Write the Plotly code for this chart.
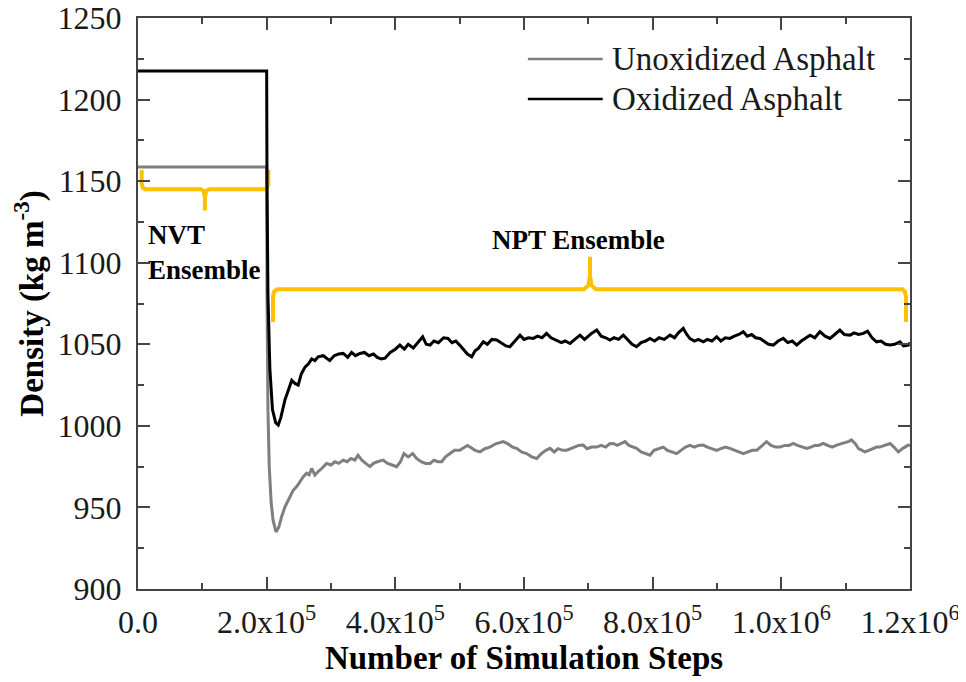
import plotly.graph_objects as go

# ---------------- data (steps in thousands, density in kg m^-3) ----------------
unox_steps_k = [0, 200, 200.5, 202, 204, 207, 210, 214.5, 219, 223, 228.5, 234, 241.4, 247, 252, 257, 262, 266,
                270, 275, 280, 286, 293, 300, 306, 312, 319, 325, 331, 337, 342, 348, 354, 360.6, 366, 372, 381,
                388, 395, 402, 408, 413.3, 420, 427, 433, 440, 447, 454, 460, 466, 472, 478, 485, 492, 500, 508,
                512, 516, 524, 531.6, 539, 547, 556, 567.8, 575, 582, 588.6, 596, 604, 612, 619.7, 627, 634, 640.4,
                647, 653, 660, 666.4, 672, 679, 685, 692, 698, 705, 713, 720, 727, 733, 738.8, 745, 751, 757, 763,
                769, 775, 782, 789, 795.8, 802, 809, 816.5, 823, 830, 837.3, 844, 851, 858, 865, 871, 878.7, 885,
                892, 899.5, 906, 913, 920, 927, 934, 941, 948, 955, 961.7, 967, 972, 977, 984, 991, 998, 1005,
                1012, 1018.6, 1025, 1032, 1039.4, 1046, 1052, 1058, 1065, 1072, 1079, 1086, 1093, 1100, 1105,
                1109, 1115, 1120, 1125, 1130, 1136, 1142, 1148, 1153, 1160, 1169, 1175, 1182, 1188, 1193, 1197, 1200]
unox_density = [1158.7, 1158.7, 1080, 1010, 975, 953, 942, 935, 938, 944, 950.4, 955, 960.6, 963, 966, 968.8, 971, 970,
                973.9, 969.8, 972, 974, 977, 976, 978, 977, 979, 978, 980, 979, 982, 979, 977, 975, 977, 978, 979,
                977, 976, 975, 978, 983, 981, 983, 980, 978, 977, 977, 979, 978, 978, 981, 983, 985, 985, 987,
                988, 987, 985, 984, 986, 987, 989, 990.3, 989, 987, 986.2, 984, 983, 981, 980, 983, 985, 986.2,
                984, 986, 985, 985.1, 986, 987, 988, 988.2, 986, 987, 987, 988, 987, 989, 989.2, 988, 989, 990.3, 988,
                987, 986.2, 984, 983, 982, 985, 986, 987, 985, 984, 983, 985, 987, 988, 987, 988, 988.2, 987,
                986, 985, 986, 987, 986.2, 985, 984, 983, 984, 985, 985, 987, 989, 990.3, 988, 987, 987, 988,
                988, 989.2, 988, 987, 986.2, 987, 988, 988, 989.2, 988, 987, 988.2, 989, 990, 990.5,
                991.4, 989, 986, 985, 984, 985, 986, 987, 987, 988, 989.2, 987, 984, 986, 987, 988.2, 988]

ox_steps_k = [0, 200, 200.5, 202, 205, 209, 214, 218, 222, 228.5, 233, 239, 244, 249, 254, 259.6, 265, 270, 275, 280,
              288, 298, 305, 312, 319, 326, 332, 338, 345, 352, 359, 366, 372, 378, 384, 392, 400, 407, 414, 420,
              428, 435, 442.5, 448, 454, 460, 467, 475, 482, 488, 494, 500, 506, 512, 518.7, 524, 529, 536.7, 543,
              550, 557.5, 565, 572, 578, 586, 593.8, 600, 607, 614.5, 621, 628, 635, 642, 650.8, 658, 664, 671.5,
              679, 687, 694, 700, 706, 713, 720, 727, 733.7, 740, 747, 754.4, 761, 768, 775, 782, 789, 795.8, 803,
              810, 818, 827, 834, 840, 847.6, 853, 858, 865, 871, 878.7, 885, 892, 899.5, 906, 913, 920, 927, 934,
              940.9, 947, 954, 960, 966.8, 973, 980, 987.5, 995, 1003, 1010, 1017, 1024, 1031, 1038, 1044.6, 1052,
              1060, 1068, 1075.6, 1083, 1091, 1098, 1106.7, 1113, 1120, 1127.4, 1134, 1141, 1148, 1155, 1162, 1169,
              1176, 1184.5, 1190, 1197.4, 1200]
ox_density = [1217.5, 1217.5, 1150, 1080, 1035, 1010, 1002, 1000.5, 1005, 1016, 1021, 1028, 1026, 1025, 1032, 1036, 1038,
              1041, 1040, 1042.3, 1043, 1040, 1043, 1044, 1044.4, 1042, 1045, 1043, 1044.4, 1045, 1043, 1044, 1042,
              1041, 1041.5, 1045, 1047, 1049.5, 1047, 1050, 1047.7, 1051, 1054.6, 1050, 1049.5, 1052, 1051, 1054,
              1053.6, 1051, 1052, 1049.5, 1047, 1044, 1042.3, 1046, 1047.5, 1051.5, 1050, 1053, 1052.6, 1051, 1049,
              1048.5, 1052, 1055.6, 1053, 1054, 1053.6, 1055, 1054, 1056.7, 1054, 1052.6, 1051, 1052, 1050.5, 1053,
              1055.6, 1053, 1055, 1057, 1058.7, 1055, 1054, 1052.6, 1054, 1053, 1055.6, 1053, 1050, 1048.5, 1051,
              1052, 1053.6, 1052, 1054, 1053, 1055.6, 1054, 1057, 1059.7, 1056, 1053.5, 1052, 1053, 1051.5, 1053,
              1052, 1054.6, 1052, 1054, 1053.6, 1055, 1056, 1057.7, 1055, 1056, 1054, 1053.6, 1052, 1050, 1049.5,
              1052, 1053.6, 1051, 1052, 1049.5, 1052, 1054, 1055.6, 1054, 1057.7, 1055, 1053.6, 1056, 1058.7, 1056,
              1055.6, 1057, 1056, 1056.7, 1058, 1054, 1051.5, 1052, 1050, 1049.5, 1050, 1051.5, 1049, 1049.5, 1051]

x_tick_vals = [0, 200000, 400000, 600000, 800000, 1000000, 1200000]
x_tick_text = ["0.0", "2.0x10<sup>5</sup>", "4.0x10<sup>5</sup>", "6.0x10<sup>5</sup>",
               "8.0x10<sup>5</sup>", "1.0x10<sup>6</sup>", "1.2x10<sup>6</sup>"]
y_tick_vals = [900, 950, 1000, 1050, 1100, 1150, 1200, 1250]

# bracket outlines (annotation guides)
nvt_bracket_k = [5.7, 5.7, 7.5, 11, 98, 102, 104, 104, 104, 106, 110, 197, 200.5, 202.5, 202.5]
nvt_bracket_y = [1156.8, 1148.5, 1146, 1145, 1145, 1144, 1140, 1132, 1140, 1144, 1145, 1145, 1146, 1148.5, 1156.8]
npt_bracket_k = [209.8, 209.8, 211.5, 216, 693, 700, 702.6, 702.6, 702.6, 705, 712, 1188, 1192, 1193.8, 1193.8]
npt_bracket_y = [1063.6, 1079, 1082.3, 1083.7, 1083.7, 1086, 1092, 1103.7, 1092, 1086, 1083.7, 1083.7, 1082.3, 1079, 1063.6]

# ---------------- figure ----------------
SERIF = "Liberation Serif, Times New Roman, serif"
GOLD = "#FFC000"

fig = go.Figure()
fig.add_trace(go.Scatter(x=[v * 1000 for v in nvt_bracket_k], y=nvt_bracket_y, mode="lines",
                         line=dict(color=GOLD, width=4), showlegend=False, hoverinfo="skip"))
fig.add_trace(go.Scatter(x=[v * 1000 for v in npt_bracket_k], y=npt_bracket_y, mode="lines",
                         line=dict(color=GOLD, width=4), showlegend=False, hoverinfo="skip"))
fig.add_trace(go.Scatter(x=[v * 1000 for v in unox_steps_k], y=unox_density, mode="lines",
                         name="Unoxidized Asphalt", line=dict(color="#7f7f7f", width=3)))
fig.add_trace(go.Scatter(x=[v * 1000 for v in ox_steps_k], y=ox_density, mode="lines",
                         name="Oxidized Asphalt", line=dict(color="#000000", width=3)))

axis_common = dict(showline=True, linecolor="#444444", linewidth=2, mirror="ticks",
                   ticks="inside", tickcolor="#444444", tickwidth=1.5, ticklen=12,
                   showgrid=False, zeroline=False, automargin=False, ticklabeloverflow="allow",
                   tickfont=dict(family=SERIF, size=32, color="#1a1a1a"))

fig.update_xaxes(range=[0, 1200000], tickvals=x_tick_vals, ticktext=x_tick_text,
                 minor=dict(ticks="inside", ticklen=6, tickwidth=1.5, tickcolor="#444444", dtick=100000, tick0=0),
                 ticklabelstandoff=4,
                 title=dict(text="<b>Number of Simulation Steps</b>", standoff=4,
                            font=dict(family=SERIF, size=33, color="#000000")),
                 **axis_common)
fig.update_yaxes(range=[900, 1250], tickvals=y_tick_vals,
                 minor=dict(ticks="inside", ticklen=6, tickwidth=1.5, tickcolor="#444444", dtick=25, tick0=900),
                 ticklabelstandoff=8,
                 title=dict(text="<b>Density (kg m<sup>-3</sup>)</b>", standoff=10,
                            font=dict(family=SERIF, size=33, color="#000000")),
                 **axis_common)

# manual legend (long line samples as in the reference)
legend_rows = [("Unoxidized Asphalt", "#7f7f7f", 0.928), ("Oxidized Asphalt", "#000000", 0.858)]
for label, color, yy in legend_rows:
    fig.add_shape(type="line", xref="paper", yref="paper", x0=0.505, x1=0.602, y0=yy, y1=yy,
                  line=dict(color=color, width=2.5))
    fig.add_annotation(xref="paper", yref="paper", x=0.612, y=yy, text=label, showarrow=False,
                       xanchor="left", yanchor="middle",
                       font=dict(family=SERIF, size=33, color="#1a1a1a"))

fig.add_annotation(x=12000, y=1106, xref="x", yref="y", text="<b>NVT<br>Ensemble</b>", showarrow=False,
                   xanchor="left", yanchor="middle", align="left",
                   font=dict(family=SERIF, size=27, color="#000000"))
fig.add_annotation(x=685000, y=1114, xref="x", yref="y", text="<b>NPT Ensemble</b>", showarrow=False,
                   xanchor="center", yanchor="middle",
                   font=dict(family=SERIF, size=27, color="#000000"))

# page body adds an 8px offset, so the figure is sized to fit inside the 966x682 window
fig.update_layout(width=958, height=674, showlegend=False,
                  paper_bgcolor="white", plot_bgcolor="white",
                  margin=dict(l=130, r=56, t=10, b=93))

fig.write_html("out.html")
